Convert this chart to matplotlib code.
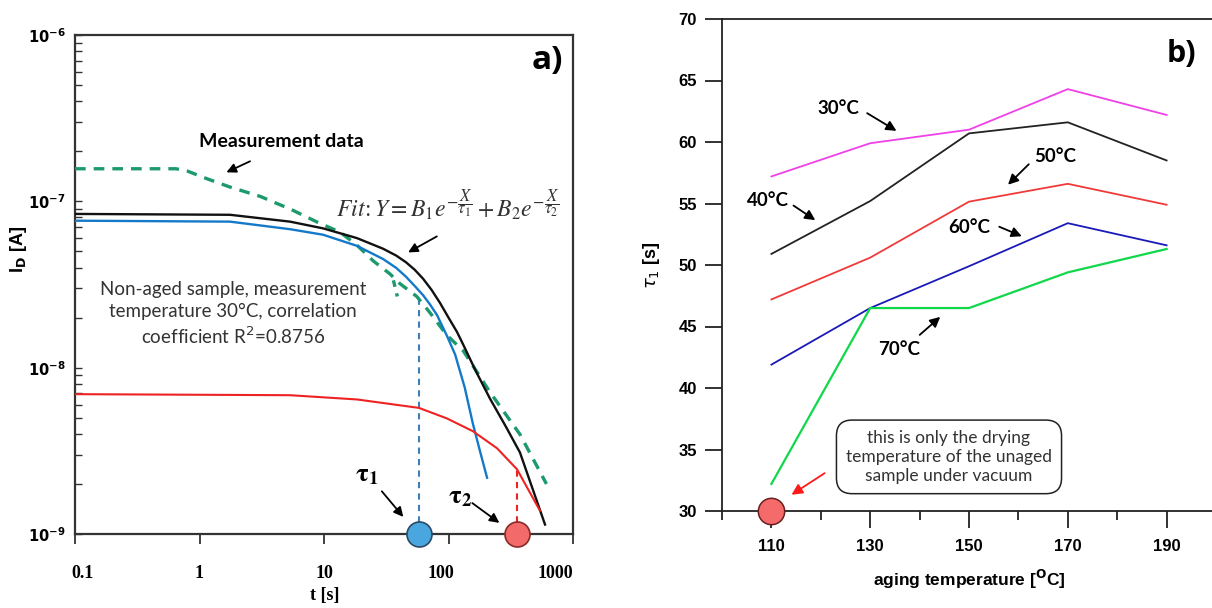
import numpy as np
import matplotlib
matplotlib.use("Agg")
import matplotlib.pyplot as plt
from matplotlib.transforms import ScaledTranslation

# ---- panel a) : decay of I_D versus time (log-log) ----
meas_t = [0.1, 0.647, 0.80, 1.14, 1.75, 3.08, 5.42, 8.89, 13.4, 18.3, 24.9, 33.9,
          40.7, 55.6, 71.0, 96.8, 131.6, 215, 375, 612]
meas_i = [1.57e-7, 1.57e-7, 1.52e-7, 1.37e-7, 1.22e-7, 1.07e-7, 8.95e-8, 7.48e-8,
          6.54e-8, 5.47e-8, 4.38e-8, 3.66e-8, 3.2e-8, 2.68e-8, 2.14e-8, 1.57e-8,
          1.26e-8, 7.14e-9, 3.97e-9, 2.0e-9]
glitch_t = [36.1, 38.8]
glitch_i = [3.35e-8, 2.68e-8]

fit_t = [0.1, 1.76, 5.33, 9.82, 18.4, 29.8, 38.0, 45.6, 53.5, 62.4, 73.0, 85.5, 100,
         117, 131, 165, 215, 290, 375, 596]
fit_i = [8.4e-8, 8.3e-8, 7.55e-8, 6.88e-8, 6.01e-8, 5.19e-8, 4.72e-8, 4.3e-8, 3.88e-8,
         3.43e-8, 2.94e-8, 2.45e-8, 2.0e-8, 1.64e-8, 1.38e-8, 9.6e-9, 6.53e-9, 4.4e-9,
         3.09e-9, 1.14e-9]

blue_t = [0.1, 1.76, 5.33, 9.82, 18.4, 29.8, 38.0, 45.6, 53.5, 62.4, 71.0, 80.9, 97.3,
          113, 135, 157, 180, 204]
blue_i = [7.65e-8, 7.55e-8, 6.8e-8, 6.3e-8, 5.4e-8, 4.5e-8, 3.98e-8, 3.52e-8, 3.1e-8,
          2.73e-8, 2.4e-8, 2.07e-8, 1.55e-8, 1.2e-8, 7.6e-9, 4.6e-9, 3.1e-9, 2.18e-9]

red_t = [0.1, 5.33, 18.4, 57.9, 97.3, 157, 245, 355, 543]
red_i = [6.93e-9, 6.83e-9, 6.44e-9, 5.73e-9, 4.95e-9, 4.15e-9, 3.28e-9, 2.45e-9, 1.38e-9]

tau1 = 57.9
tau1_i = 2.7e-8
tau2 = 355
tau2_i = 2.45e-9

t_ticks = [0.1, 1, 10, 100, 1000]
t_ticklabels = ["0.1", "1", "10", "100", "1000"]
i_ticks = [1e-9, 1e-8, 1e-7, 1e-6]
i_ticklabels = [r"$\mathbf{10^{-9}}$", r"$\mathbf{10^{-8}}$", r"$\mathbf{10^{-7}}$", r"$\mathbf{10^{-6}}$"]

# ---- panel b) : tau1 versus aging temperature ----
aging_temp = [110, 130, 150, 170, 190]
tau_30 = [57.2, 59.9, 61.0, 64.3, 62.2]
tau_40 = [50.9, 55.2, 60.7, 61.6, 58.5]
tau_50 = [47.2, 50.6, 55.15, 56.6, 54.9]
tau_60 = [41.9, 46.5, 49.9, 53.4, 51.6]
tau_70 = [32.2, 46.5, 46.5, 49.4, 51.3]
dry_temp = 110
dry_tau = 30

W, H = 1212, 608
fig = plt.figure(figsize=(W / 100, H / 100), dpi=100)

# ================= left panel =================
ax = fig.add_axes([75 / W, (H - 534) / H, 498 / W, 499 / H])
ax.set_xscale("log")
ax.set_yscale("log")
ax.set_xlim(0.1, 1000)
ax.set_ylim(1e-9, 1e-6)

ax.plot(meas_t, meas_i, color="#1d9a6c", lw=2.4, ls=(0, (3.2, 2.4)), zorder=3)
ax.plot(glitch_t, glitch_i, color="#1d9a6c", lw=2.4, ls=(0, (2.0, 2.0)), zorder=3)
ax.plot(fit_t, fit_i, color="#111111", lw=1.7, zorder=4)
ax.plot(blue_t, blue_i, color="#1479c9", lw=1.7, zorder=4)
ax.plot(red_t, red_i, color="#ee2222", lw=1.5, zorder=4)

ax.plot([tau1, tau1], [1e-9, tau1_i], color="#3f7fb8", lw=1.5, ls=(0, (3, 2.5)), zorder=2)
ax.plot([tau2, tau2], [1e-9, tau2_i], color="#ee2222", lw=1.5, ls=(0, (3, 2.5)), zorder=2)
ax.plot([tau1], [1e-9], marker="o", ms=18, mfc="#4aa6de", mec="#2a4a66", mew=1.2,
        clip_on=False, zorder=6)
ax.plot([tau2], [1e-9], marker="o", ms=18, mfc="#f36a6a", mec="#8a2a2a", mew=1.2,
        clip_on=False, zorder=6)

ax.set_xticks(t_ticks)
ax.set_xticklabels(t_ticklabels, fontfamily="Liberation Serif", fontweight="bold", fontsize=13)
ax.xaxis.set_minor_locator(matplotlib.ticker.NullLocator())
ax.tick_params(axis="x", which="major", direction="out", length=7, width=1.3, pad=15, color="#333333")
ax.set_yticks(i_ticks)
ax.set_yticklabels(i_ticklabels, fontsize=10.5)
ax.tick_params(axis="y", which="both", direction="in", length=5, width=1.0, pad=7, color="#333333")
for sp in ax.spines.values():
    sp.set_color("#333333")
    sp.set_linewidth(1.6)

# nudge a few x tick labels like in the original figure
shifts = {0: 7, 3: -8, 4: -18}
for k, lab in enumerate(ax.get_xticklabels()):
    if k in shifts:
        lab.set_transform(lab.get_transform() + ScaledTranslation(shifts[k] / 100, 0, fig.dpi_scale_trans))

ax.set_xlabel("t [s]", fontfamily="Liberation Serif", fontweight="bold", fontsize=13)
ax.xaxis.set_label_coords(0.502, -0.106)
ax.set_ylabel(r"I$_\mathbf{D}$ [A]", fontfamily="Liberation Sans", fontweight="bold", fontsize=13)
ax.yaxis.set_label_coords(-0.092, 0.57)

ax.text(0.948, 0.948, "a)", transform=ax.transAxes, ha="center", va="center",
        fontfamily="Open Sans", fontweight="bold", fontsize=24)
ax.text(4.54, 2.3e-7, "Measurement data", ha="center", va="center",
        fontfamily="Lato", fontweight="bold", fontsize=14)
ax.annotate("", xy=(1.57, 1.47e-7), xytext=(2.67, 1.77e-7),
            arrowprops=dict(arrowstyle="-|>", color="k", lw=1.3, mutation_scale=14))
ax.text(98, 9.5e-8, r"$Fit\!:Y = B_1e^{-\dfrac{X}{\tau_1}} + B_2e^{-\dfrac{X}{\tau_2}}$",
        ha="center", va="center", fontsize=17, math_fontfamily="stix", color="#333333")
ax.annotate("", xy=(45.3, 4.84e-8), xytext=(84.3, 6.27e-8),
            arrowprops=dict(arrowstyle="-|>", color="k", lw=1.3, mutation_scale=14))
ax.text(1.87, 2.1e-8, "Non-aged sample, measurement\ntemperature 30°C, correlation\ncoefficient R$^2$=0.8756",
        ha="center", va="center", fontfamily="Lato", fontsize=13.5, linespacing=1.3,
        color="#333333", math_fontfamily="dejavusans")
ax.text(22.0, 2.27e-9, r"$\mathbf{\tau_1}$", ha="center", va="center", fontsize=19,
        math_fontfamily="stix")
ax.text(123.6, 1.69e-9, r"$\mathbf{\tau_2}$", ha="center", va="center", fontsize=19,
        math_fontfamily="stix")
ax.annotate("", xy=(44.8, 1.23e-9), xytext=(28.2, 1.86e-9),
            arrowprops=dict(arrowstyle="-|>", color="k", lw=1.3, mutation_scale=14))
ax.annotate("", xy=(267, 1.14e-9), xytext=(149, 1.57e-9),
            arrowprops=dict(arrowstyle="-|>", color="k", lw=1.3, mutation_scale=14))

# ================= right panel =================
bx = fig.add_axes([722 / W, (H - 511) / H, (1216 - 722) / W, 492 / H])
bx.set_xlim(100, 200)
bx.set_ylim(30, 70)

bx.plot(aging_temp, tau_30, color="#f040e8", lw=1.3)
bx.plot(aging_temp, tau_40, color="#222222", lw=1.3)
bx.plot(aging_temp, tau_50, color="#f03a3a", lw=1.3)
bx.plot(aging_temp, tau_60, color="#1a1ab8", lw=1.3)
bx.plot(aging_temp, tau_70, color="#10d84a", lw=1.6)
bx.plot([dry_temp], [dry_tau], marker="o", ms=19, mfc="#f56a6a", mec="#6a2020", mew=1.1,
        clip_on=False, zorder=6)

bx.set_xticks(aging_temp)
bx.set_xticks([100, 120, 140, 160, 180, 200], minor=True)
bx.set_yticks(np.arange(30, 71, 5))
for lab_axis in ("x", "y"):
    bx.tick_params(axis=lab_axis, which="major", direction="out", length=12, width=1.3,
                   labelsize=12, color="#222222")
bx.tick_params(axis="x", which="minor", direction="out", length=6.5, width=1.3, color="#222222")
bx.tick_params(axis="x", which="major", pad=8)
bx.tick_params(axis="y", which="major", pad=6)
for lab in bx.get_xticklabels() + bx.get_yticklabels():
    lab.set_fontfamily("Liberation Sans")
    lab.set_fontweight("bold")
for sp in bx.spines.values():
    sp.set_color("#222222")
    sp.set_linewidth(1.3)

bx.set_xlabel(r"aging temperature [$^{\mathbf{O}}$C]", fontfamily="Liberation Sans",
              fontweight="bold", fontsize=12.5)
bx.xaxis.set_label_coords(0.5, -0.116)
bx.set_ylabel(r"$\tau_1$ [s]", fontfamily="Liberation Sans", fontweight="bold", fontsize=13)
bx.yaxis.set_label_coords(-0.122, 0.5)

bx.text(0.93, 0.929, "b)", transform=bx.transAxes, ha="center", va="center",
        fontfamily="Open Sans", fontweight="bold", fontsize=22)

lbl = dict(ha="center", va="center", fontfamily="Lato", fontweight="bold", fontsize=13.5)
arr = dict(arrowstyle="-|>", color="k", lw=1.3, mutation_scale=15)
bx.text(123.6, 62.76, "30°C", **lbl)
bx.annotate("", xy=(135.8, 60.79), xytext=(128.9, 62.46), arrowprops=arr)
bx.text(109.3, 55.23, "40°C", **lbl)
bx.annotate("", xy=(119.35, 53.52), xytext=(114.0, 54.96), arrowprops=arr)
bx.text(167.35, 58.8, "50°C", **lbl)
bx.annotate("", xy=(157.5, 56.37), xytext=(162.5, 58.35), arrowprops=arr)
bx.text(150.1, 53.03, "60°C", **lbl)
bx.annotate("", xy=(161.2, 52.25), xytext=(155.6, 53.2), arrowprops=arr)
bx.text(135.8, 43.15, "70°C", **lbl)
bx.annotate("", xy=(144.6, 45.93), xytext=(139.6, 44.17), arrowprops=arr)

bx.annotate("", xy=(113.6, 31.2), xytext=(121.25, 33.2),
            arrowprops=dict(arrowstyle="-|>", color="#ff1a1a", lw=1.3, mutation_scale=16))
bx.text(145.95, 34.4, "this is only the drying\ntemperature of the unaged\nsample under vacuum",
        ha="center", va="center", fontfamily="Lato", fontsize=12.5, linespacing=1.25,
        color="#333333",
        bbox=dict(boxstyle="round,pad=0.55,rounding_size=0.9", fc="white", ec="#222222", lw=1.1))

fig.savefig("out.png", dpi=100)
